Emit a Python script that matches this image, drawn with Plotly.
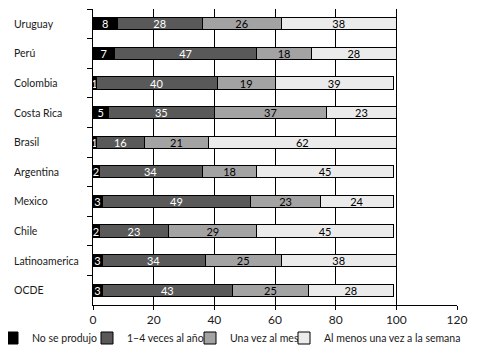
import plotly.graph_objects as go

categories = ["Uruguay", "Perú", "Colombia", "Costa Rica", "Brasil",
              "Argentina", "Mexico", "Chile", "Latinoamerica", "OCDE"]
series_names = ["No se produjo", "1–4 veces al año", "Una vez al mes",
                "Al menos una vez a la semana"]
no_se_produjo = [8, 7, 1, 5, 1, 2, 3, 2, 3, 3]
veces_al_ano = [28, 47, 40, 35, 16, 34, 49, 23, 34, 43]
vez_al_mes = [26, 18, 19, 37, 21, 18, 23, 29, 25, 25]
vez_semana = [38, 28, 39, 23, 62, 45, 24, 45, 38, 28]
x_ticks = [0, 20, 40, 60, 80, 100, 120]

series = [no_se_produjo, veces_al_ano, vez_al_mes, vez_semana]
fills = ["#000000", "#595959", "#a3a3a3", "#ebebeb"]
text_colors = ["#ffffff", "#ffffff", "#000000", "#000000"]

FONT = "Lato"
# the page body adds an 8px offset at the top-left
W, H = 465, 342
ML, MR, MT, MB = 85, 16, 1, 45
PW = W - ML - MR
PH = H - MT - MB


def px_to_paper_x(px):
    return (px - ML) / PW


legend_ids = ["legend", "legend2", "legend3", "legend4"]
legend_px = [-16, 79, 182, 276]

fig = go.Figure()
for name, vals, fc, tc, lid in zip(series_names, series, fills,
                                   text_colors, legend_ids):
    fig.add_trace(go.Bar(
        name=name, y=categories, x=vals, orientation="h",
        marker=dict(color=fc, line=dict(color="#000000", width=1)),
        text=vals, textposition="inside", insidetextanchor="middle",
        textangle=0, textfont=dict(color=tc, size=11, family=FONT),
        cliponaxis=False, legend=lid,
    ))

for c in categories:
    fig.add_annotation(x=px_to_paper_x(4), xref="paper", y=c, yref="y",
                       text=c, showarrow=False, xanchor="left",
                       font=dict(size=10.5, family=FONT, color="#1a1a1a"))

legend_y = -(330 - (H - MB)) / PH
layout_legends = {}
for lid, lpx in zip(legend_ids, legend_px):
    layout_legends[lid] = dict(
        orientation="h", x=px_to_paper_x(lpx), xanchor="left",
        y=legend_y, yanchor="middle", font=dict(size=10.5, family=FONT),
        itemwidth=30, bgcolor="rgba(0,0,0,0)",
    )

fig.update_layout(
    width=W, height=H,
    margin=dict(l=ML, r=MR, t=MT, b=MB, autoexpand=False),
    barmode="stack", bargap=0.59,
    plot_bgcolor="white", paper_bgcolor="white",
    font=dict(family=FONT, size=11, color="#1a1a1a"),
    uniformtext=dict(minsize=11, mode="show"),
    showlegend=True,
    **layout_legends,
)
fig.update_xaxes(range=[0, 120], tickvals=x_ticks, showgrid=True,
                 gridcolor="#000000", gridwidth=1, showline=True,
                 linecolor="#000000", ticks="outside", ticklen=4,
                 tickcolor="#000000", zeroline=False,
                 tickfont=dict(size=12, family=FONT, color="#1a1a1a"))
fig.update_yaxes(type="category", categoryorder="array",
                 categoryarray=categories, autorange="reversed",
                 showticklabels=False, tickson="boundaries", ticks="outside",
                 ticklen=5, tickcolor="#000000", showgrid=False,
                 showline=True, linecolor="#000000")

fig.write_html("out.html")
